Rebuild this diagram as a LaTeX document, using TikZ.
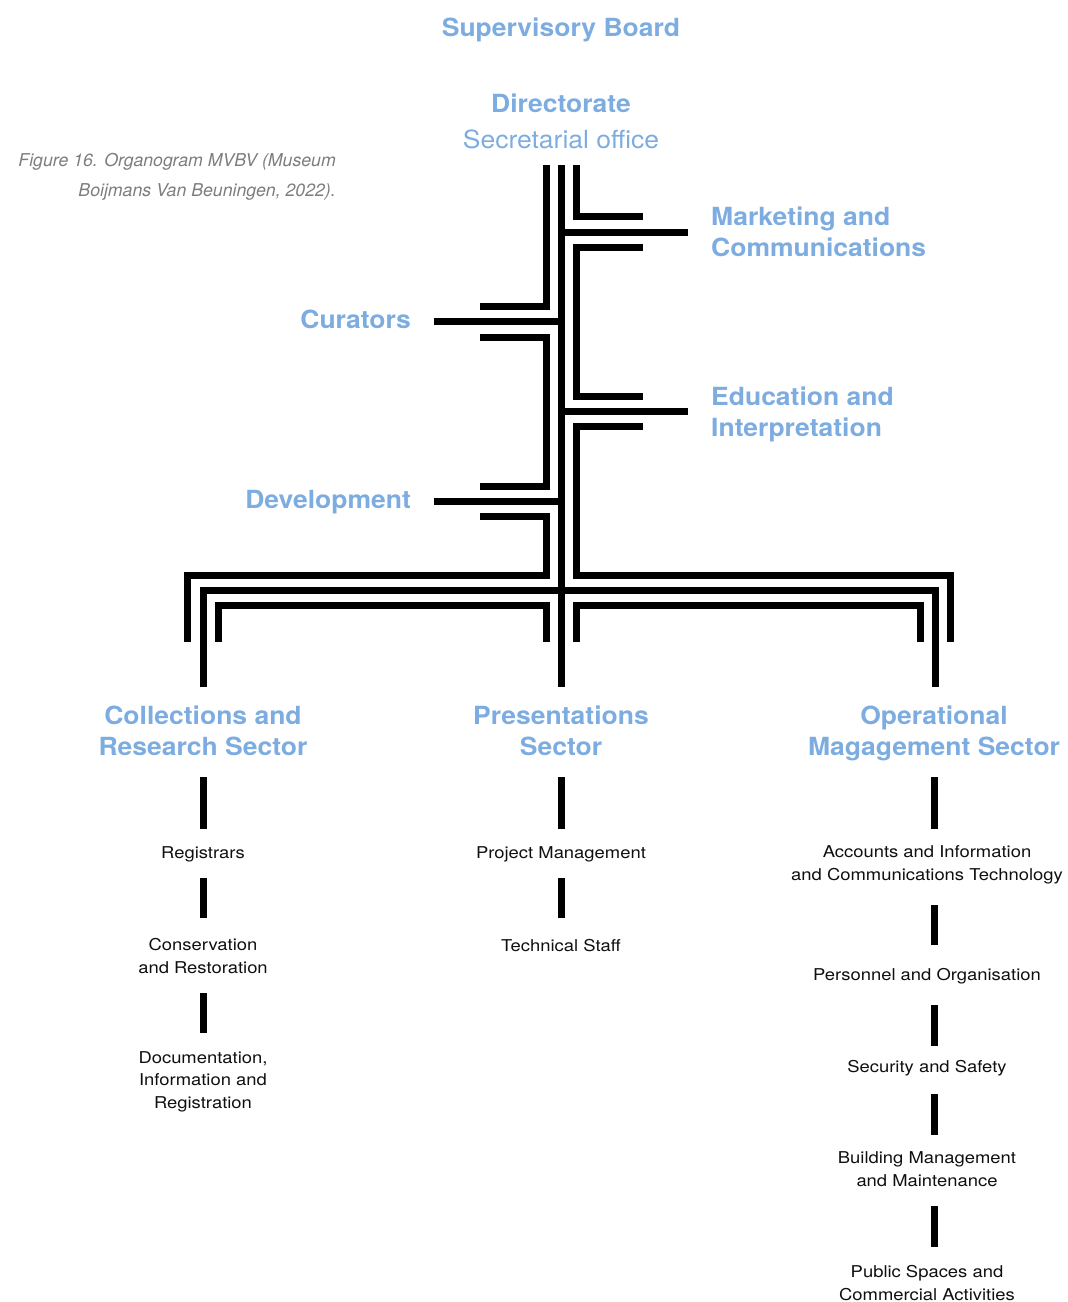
\documentclass[tikz,border=0pt]{standalone}
\usepackage{fontspec}
\setmainfont{TeX Gyre Heros}
\newfontfamily\headfont[FakeStretch=1.06]{TeX Gyre Heros}
\newfontfamily\bodyfont[FakeStretch=1.13]{TeX Gyre Heros}
\definecolor{headblue}{RGB}{125,172,224}
\definecolor{capgray}{RGB}{125,125,125}
\definecolor{unitink}{RGB}{15,15,15}
\tikzset{
  wire/.style={line width=7pt, line join=miter, line cap=butt, draw=black},
  head/.style={font=\headfont\bfseries\fontsize{25}{31}\selectfont, text=headblue, inner sep=0pt},
  subhead/.style={font=\headfont\fontsize{25}{31}\selectfont, text=headblue, inner sep=0pt},
  unit/.style={font=\bodyfont\fontsize{16.3}{22.5}\selectfont, text=unitink, inner sep=0pt, align=center, anchor=base},
  caption/.style={font=\itshape\fontsize{17.7}{30}\selectfont, text=capgray, inner sep=0pt, align=right}
}
\begin{document}
\begin{tikzpicture}[x=1pt,y=-1pt]
\useasboundingbox (0,0) rectangle (1068,1302);

% ---- titles at the top ----
\node[head, anchor=base] (sup) at (561,36) {Supervisory Board};
\node[head, anchor=base] (dir) at (561,112) {Directorate};
\node[subhead, anchor=base] (sec) at (561,148) {Secretarial office};

% ---- caption (multi-line nodes sit on the baseline of their last line) ----
\node[caption, anchor=base east] (cap) at (336,196) {Figure 16. Organogram MVBV (Museum\\Boijmans Van Beuningen, 2022).};

% ---- staff departments ----
\node[head, anchor=base west, align=left] (mkt) at (711,256) {Marketing and\\Communications};
\node[head, anchor=base west, align=left] (edu) at (711,436) {Education and\\Interpretation};
\node[head, anchor=base east] (cur) at (411,328) {Curators};
\node[head, anchor=base east] (dev) at (411,508) {Development};

% ---- sectors ----
\node[head, anchor=base, align=center] (col) at (203,755) {Collections and\\Research Sector};
\node[head, anchor=base, align=center] (pre) at (561,755) {Presentations\\Sector};
\node[head, anchor=base, align=center] (ops) at (934,755) {Operational\\Magagement Sector};

% ---- units ----
\node[unit] (reg) at (203,858) {Registrars};
\node[unit] (con) at (203,973) {Conservation\\and Restoration};
\node[unit] (doc) at (203,1108) {Documentation,\\Information and\\Registration};
\node[unit] (pm) at (561,858) {Project Management};
\node[unit] (ts) at (561,951) {Technical Staff};
\node[unit] (acc) at (927,880) {Accounts and Information\\and Communications Technology};
\node[unit] (per) at (927,980) {Personnel and Organisation};
\node[unit] (saf) at (927,1072) {Security and Safety};
\node[unit] (bld) at (927,1186) {Building Management\\and Maintenance};
\node[unit] (pub) at (927,1300) {Public Spaces and\\Commercial Activities};

% ---- trunk: three parallel lines ----
\coordinate (tL) at (546,165);
\coordinate (tC) at (561,165);
\coordinate (tR) at (576,165);
\coordinate (preTop) at (561,687);

% branch ends
\coordinate (mkA) at (643,216);
\coordinate (mkB) at (643,247);
\coordinate (mkC) at (688,232);
\coordinate (edA) at (643,396);
\coordinate (edB) at (643,426);
\coordinate (edC) at (688,411);
\coordinate (cuA) at (480,306);
\coordinate (cuB) at (480,337);
\coordinate (cuC) at (434,321);
\coordinate (dvA) at (480,486);
\coordinate (dvB) at (480,516);
\coordinate (dvC) at (434,501);

% bus feet
\coordinate (oL) at (187,642);
\coordinate (iL) at (218,642);
\coordinate (iLc) at (546,642);
\coordinate (iRc) at (576,642);
\coordinate (iR) at (920,642);
\coordinate (oR) at (950,642);
\coordinate (colTop) at (203,687);
\coordinate (opsTop) at (935,687);

% centre line with its branches
\draw[wire] (tC) -- (preTop);
\draw[wire] (tC |- mkC) -- (mkC);
\draw[wire] (tC |- edC) -- (edC);
\draw[wire] (tC |- cuC) -- (cuC);
\draw[wire] (tC |- dvC) -- (dvC);
\draw[wire] (colTop) |- (561,590) -| (opsTop);

% right line
\draw[wire] (tR) |- (mkA);
\draw[wire] (mkB) -- (tR |- mkB) -- (tR |- edA) -- (edA);
\draw[wire] (edB) -- (tR |- edB) -- (576,575) -| (oR);
\draw[wire] (iRc) -- (576,605) -| (iR);

% left line
\draw[wire] (tL) |- (cuA);
\draw[wire] (cuB) -- (tL |- cuB) -- (tL |- dvA) -- (dvA);
\draw[wire] (dvB) -- (tL |- dvB) -- (546,575) -| (oL);
\draw[wire] (iLc) -- (546,605) -| (iL);

% ---- links between units ----
\draw[wire] (203,777) -- (203,829);
\draw[wire] (203,878) -- (203,918);
\draw[wire] (203,993) -- (203,1033);
\draw[wire] (561,777) -- (561,829);
\draw[wire] (561,878) -- (561,918);
\draw[wire] (934,777) -- (934,829);
\draw[wire] (934,905) -- (934,945);
\draw[wire] (934,1005) -- (934,1046);
\draw[wire] (934,1094) -- (934,1135);
\draw[wire] (934,1206) -- (934,1247);
\end{tikzpicture}
\end{document}
